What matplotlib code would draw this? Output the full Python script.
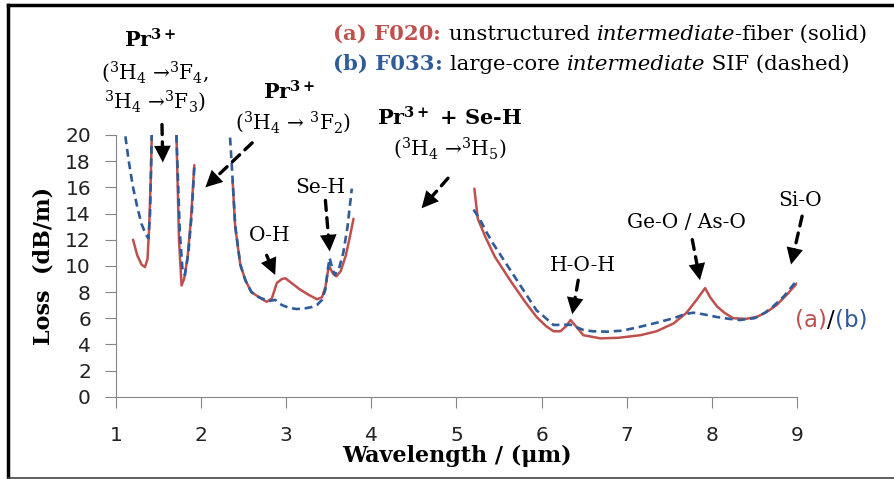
import matplotlib.pyplot as plt
from matplotlib.lines import Line2D

plt.rcParams['mathtext.fontset'] = 'dejavuserif'

# (a) F020 solid red, (b) F033 dashed blue; gaps are the Pr3+ absorption bands
red_1_x = [1.20, 1.25, 1.30, 1.34, 1.37, 1.39, 1.41, 1.42]
red_1_y = [12.0, 10.8, 10.1, 9.9, 10.5, 13.0, 17.0, 20.0]
red_2_x = [1.71, 1.74, 1.77, 1.80, 1.84, 1.88, 1.92]
red_2_y = [20.0, 12.0, 8.5, 9.0, 10.6, 13.5, 17.7]
red_3_x = [2.37, 2.40, 2.46, 2.52, 2.59, 2.68, 2.77, 2.83, 2.89, 2.95, 2.99, 3.08, 3.16, 3.26,
           3.36, 3.42, 3.46, 3.49, 3.51, 3.55, 3.59, 3.64, 3.70, 3.75, 3.79]
red_3_y = [16.5, 13.0, 10.1, 8.9, 8.0, 7.6, 7.25, 7.5, 8.7, 9.0, 9.05, 8.6, 8.2, 7.8,
           7.45, 7.6, 8.4, 9.6, 9.9, 9.4, 9.2, 9.6, 10.8, 12.3, 13.6]
red_4_x = [5.21, 5.25, 5.34, 5.45, 5.63, 5.80, 5.94, 6.05, 6.14, 6.22, 6.29, 6.34, 6.40,
           6.49, 6.69, 6.90, 7.16, 7.35, 7.55, 7.70, 7.82, 7.92, 7.98, 8.06, 8.15,
           8.25, 8.40, 8.53, 8.65, 8.76, 8.88, 9.00]
red_4_y = [15.9, 13.6, 12.2, 10.7, 8.9, 7.3, 6.1, 5.4, 5.0, 5.0, 5.4, 5.86, 5.4,
           4.7, 4.46, 4.5, 4.7, 5.0, 5.6, 6.4, 7.4, 8.3, 7.6, 6.9, 6.4,
           6.0, 5.95, 6.1, 6.5, 7.0, 7.8, 8.67]

blue_1_x = [1.11, 1.15, 1.20, 1.25, 1.30, 1.35, 1.38, 1.40, 1.42]
blue_1_y = [19.9, 18.0, 16.0, 14.5, 13.2, 12.4, 12.1, 14.0, 20.0]
blue_2_x = [1.71, 1.75, 1.78, 1.81, 1.85, 1.89, 1.92]
blue_2_y = [20.0, 12.5, 9.8, 9.3, 11.0, 14.0, 17.6]
blue_3_x = [2.34, 2.36, 2.40, 2.46, 2.52, 2.59, 2.68, 2.79, 2.87, 2.95, 3.03, 3.12, 3.22,
            3.30, 3.36, 3.42, 3.46, 3.49, 3.51, 3.54, 3.57, 3.62, 3.67, 3.72, 3.77]
blue_3_y = [19.8, 17.7, 13.1, 10.1, 8.9, 8.0, 7.6, 7.3, 7.4, 7.0, 6.8, 6.7, 6.75,
            6.85, 7.0, 7.4, 8.2, 9.8, 10.6, 9.8, 9.3, 9.8, 11.0, 13.0, 15.9]
blue_4_x = [5.20, 5.28, 5.35, 5.43, 5.63, 5.80, 5.94, 6.05, 6.14, 6.25, 6.34, 6.49, 6.60,
            6.77, 6.95, 7.16, 7.35, 7.55, 7.68, 7.78, 7.90, 8.05, 8.20, 8.33, 8.50,
            8.62, 8.72, 8.85, 9.00]
blue_4_y = [14.3, 13.5, 12.6, 11.7, 9.7, 8.0, 6.6, 6.0, 5.48, 5.5, 5.5, 5.1, 5.0,
            4.97, 5.05, 5.35, 5.65, 6.0, 6.3, 6.42, 6.3, 6.1, 5.95, 5.86, 6.0,
            6.4, 6.9, 7.7, 8.9]

red_segments = [(red_1_x, red_1_y), (red_2_x, red_2_y), (red_3_x, red_3_y), (red_4_x, red_4_y)]
blue_segments = [(blue_1_x, blue_1_y), (blue_2_x, blue_2_y), (blue_3_x, blue_3_y), (blue_4_x, blue_4_y)]

RED = '#c0504d'
BLUE = '#2e5c9a'
SERIF = 'DejaVu Serif'

fig = plt.figure(figsize=(8.94, 4.79), dpi=100)
ax = fig.add_axes([116 / 894, 1 - 396.7 / 479, 681 / 894, 261.7 / 479])

for x, y in red_segments:
    ax.plot(x, y, color=RED, lw=1.8, solid_capstyle='round')
for x, y in blue_segments:
    ax.plot(x, y, color=BLUE, lw=1.9, ls=(0, (3, 1.8)))

ax.set_xlim(1, 9)
ax.set_ylim(0, 20)
ax.set_xticks(range(1, 10))
ax.set_yticks(range(0, 21, 2))
for side in ['top', 'right']:
    ax.spines[side].set_visible(False)
for side in ['left', 'bottom']:
    ax.spines[side].set_color('#868686')
ax.tick_params(direction='out', length=8, color='#868686', labelsize=14.5, pad=10)
ax.tick_params(axis='x', pad=13)
for lab in ax.get_xticklabels() + ax.get_yticklabels():
    lab.set_fontfamily('DejaVu Sans')
    lab.set_color('#222222')

ax.set_xlabel('Wavelength / (μm)', family=SERIF, weight='bold', fontsize=16, labelpad=0)
ax.set_ylabel('Loss  (dB/m)', family=SERIF, weight='bold', fontsize=16, labelpad=8)


def label(x, y, s, bold=False, size=14.5):
    ax.text(x, y, s, ha='center', va='center', family=SERIF, fontsize=size,
            weight='bold' if bold else 'normal', clip_on=False)


def arrow(tail, tip):
    # dashed shaft, stopping where the head begins
    ax.annotate('', xy=tip, xytext=tail, annotation_clip=False,
                arrowprops=dict(arrowstyle='-', color='black', lw=2.4,
                                ls=(0, (3, 2.2)), shrinkA=0, shrinkB=10))
    # solid triangular head only
    ax.annotate('', xy=tip, xytext=tail, annotation_clip=False,
                arrowprops=dict(arrowstyle='-|>,head_length=0.6,head_width=0.3',
                                mutation_scale=20, facecolor='black', edgecolor='black',
                                lw=0.0, shrinkA=0, shrinkB=0))


label(1.40, 27.3, r'Pr$^{\mathbf{3+}}$', bold=True, size=15)
label(1.46, 24.8, r'($^3$H$_4$ →$^3$F$_4$,')
label(1.46, 22.6, r'$^3$H$_4$ →$^3$F$_3$)')
label(3.04, 23.3, r'Pr$^{\mathbf{3+}}$', bold=True, size=15)
label(3.08, 21.0, r'($^3$H$_4$ → $^3$F$_2$)')
label(4.92, 21.3, r'Pr$^{\mathbf{3+}}$ + Se-H', bold=True, size=15)
label(4.92, 19.0, r'($^3$H$_4$ →$^3$H$_5$)')
label(2.81, 12.3, 'O-H')
label(3.40, 16.0, 'Se-H')
label(6.49, 10.0, 'H-O-H')
label(7.70, 13.35, 'Ge-O / As-O')
label(9.04, 15.0, 'Si-O')

arrow((1.54, 20.8), (1.55, 17.9))
arrow((2.60, 19.4), (2.05, 16.0))
arrow((4.90, 16.7), (4.59, 14.4))
arrow((2.77, 10.8), (2.87, 9.3))
arrow((3.46, 15.0), (3.51, 11.1))
arrow((6.43, 8.9), (6.36, 6.3))
arrow((7.77, 12.0), (7.86, 8.9))
arrow((9.06, 13.8), (8.93, 10.1))

# (a)/(b) tag
t = ax.text(8.98, 5.85, '(a)', color=RED, family='DejaVu Sans', fontsize=16.5,
            va='center', clip_on=False)
t = ax.annotate('/', xy=(1, 0), xycoords=t, va='bottom', family='DejaVu Sans',
                fontsize=16.5, color='black')
ax.annotate('(b)', xy=(1, 0), xycoords=t, va='bottom', family='DejaVu Sans',
            fontsize=16.5, color=BLUE)


def legend_line(y, pieces):
    prev = ax.text(3.55, y, pieces[0][0], va='bottom', family=SERIF, fontsize=15.3,
                   color=pieces[0][1], weight=pieces[0][2], style=pieces[0][3], clip_on=False)
    for s, c, w, st in pieces[1:]:
        prev = ax.annotate(s, xy=(1, 0), xycoords=prev, va='bottom', family=SERIF,
                           fontsize=15.3, color=c, weight=w, style=st)


legend_line(26.95, [('(a) F020', RED, 'bold', 'normal'),
                    (': ', RED, 'bold', 'normal'),
                    ('unstructured ', 'black', 'normal', 'normal'),
                    ('intermediate', 'black', 'normal', 'italic'),
                    ('-fiber (solid)', 'black', 'normal', 'normal')])
legend_line(24.7, [('(b) F033', BLUE, 'bold', 'normal'),
                   (': ', BLUE, 'bold', 'normal'),
                   ('large-core ', 'black', 'normal', 'normal'),
                   ('intermediate', 'black', 'normal', 'italic'),
                   (' SIF (dashed)', 'black', 'normal', 'normal')])

# figure frame
fig.add_artist(Line2D([8 / 894, 1], [1 - 5 / 479, 1 - 5 / 479], color='black', lw=2.5))
fig.add_artist(Line2D([8 / 894, 8 / 894], [1 - 5 / 479, 1 - 477.5 / 479], color='black', lw=2.5))
fig.add_artist(Line2D([8 / 894, 1], [1 - 477.5 / 479, 1 - 477.5 / 479], color='#444444', lw=1.2))

fig.savefig('out.png', dpi=100)
